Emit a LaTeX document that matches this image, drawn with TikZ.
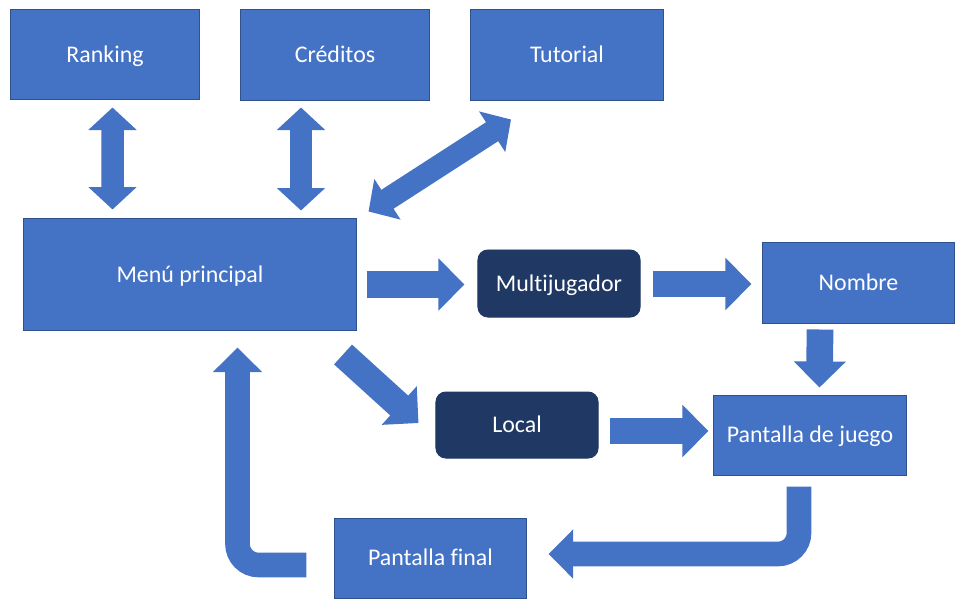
\documentclass[tikz,border=0pt]{standalone}
\usepackage{fontspec}
\setmainfont{Carlito}[Ligatures=NoCommon]
\usetikzlibrary{arrows.meta,calc}
\definecolor{boxblue}{HTML}{4472C4}
\definecolor{boxedge}{HTML}{2F528F}
\definecolor{darkbox}{HTML}{203864}

\begin{document}
\begin{tikzpicture}[x=0.025cm,y=-0.025cm,
  screen/.style={draw=boxedge,line width=0.7pt,fill=boxblue,text=white,
    inner sep=0pt,text height=11pt,text depth=0pt,font=\fontsize{17}{20}\selectfont},
  mode/.style={screen,fill=darkbox,draw=darkbox,rounded corners=7pt},
  flow/.style={boxblue,line width=19pt,-{Triangle[length=18.5pt,width=36pt]}},
  swap/.style={boxblue,line width=16pt,
    {Triangle[length=16pt,width=33.5pt]}-{Triangle[length=16pt,width=33.5pt]}},
  loop/.style={boxblue,line width=17.5pt,rounded corners=15pt,
    -{Triangle[length=17.5pt,width=34pt]}}]
  \useasboundingbox (0,0) rectangle (972,613);

  % pantallas
  \node[screen,minimum width=4.7cm,minimum height=2.225cm] (rank) at (105,54.5) {Ranking};
  \node[screen,minimum width=4.7cm,minimum height=2.25cm] (cred) at (335,55) {Créditos};
  \node[screen,minimum width=4.8cm,minimum height=2.25cm] (tut) at (567,55) {Tutorial};
  \node[screen,minimum width=8.3cm,minimum height=2.775cm] (menu) at (190,274.5) {Menú principal};
  \node[mode,minimum width=4.05cm,minimum height=1.675cm] (multi) at (559,283.5) {Multijugador};
  \node[screen,minimum width=4.775cm,minimum height=2.025cm] (nombre) at (858.5,282.5) {Nombre};
  \node[mode,minimum width=4.05cm,minimum height=1.65cm] (local) at (517,425) {Local};
  \node[screen,minimum width=4.8cm,minimum height=2cm] (juego) at (810,435) {Pantalla de juego};
  \node[screen,minimum width=4.775cm,minimum height=2cm] (final) at (430.5,558) {Pantalla final};

  % ida y vuelta con el menu
  \draw[swap] ($(rank.south)+(7.5,8)$) -- ($(menu.north)+(-77.5,-9)$);
  \draw[swap] ($(cred.south)+(-34,7)$) -- ($(menu.north)+(111,-8)$);
  \draw[swap] ($(tut.south)+(-56,19)$) -- ($(menu.north east)+(12,-7)$);

  % flujo de juego
  \draw[flow] ($(menu.east)+(10,10)$) -- ($(multi.west)+(-13,1)$);
  \draw[flow] ($(multi.east)+(12,0.5)$) -- ($(nombre.west)+(-11,1.5)$);
  \draw[flow] ($(nombre.south)+(-38.5,6)$) -- ($(juego.north)+(9.5,-7)$);
  \draw[flow] ($(menu.south east)+(-13.5,24)$) -- ($(local.west)+(-17,-2)$);
  \draw[flow] ($(local.east)+(11,6)$) -- ($(juego.west)+(-5,-4)$);
  \draw[loop] ($(juego.south)+(-11,11)$) |- ($(final.east)+(22,-4)$);
  \draw[loop] ($(final.west)+(-28,7)$) -| ($(menu.south)+(47.5,17)$);
\end{tikzpicture}
\end{document}
